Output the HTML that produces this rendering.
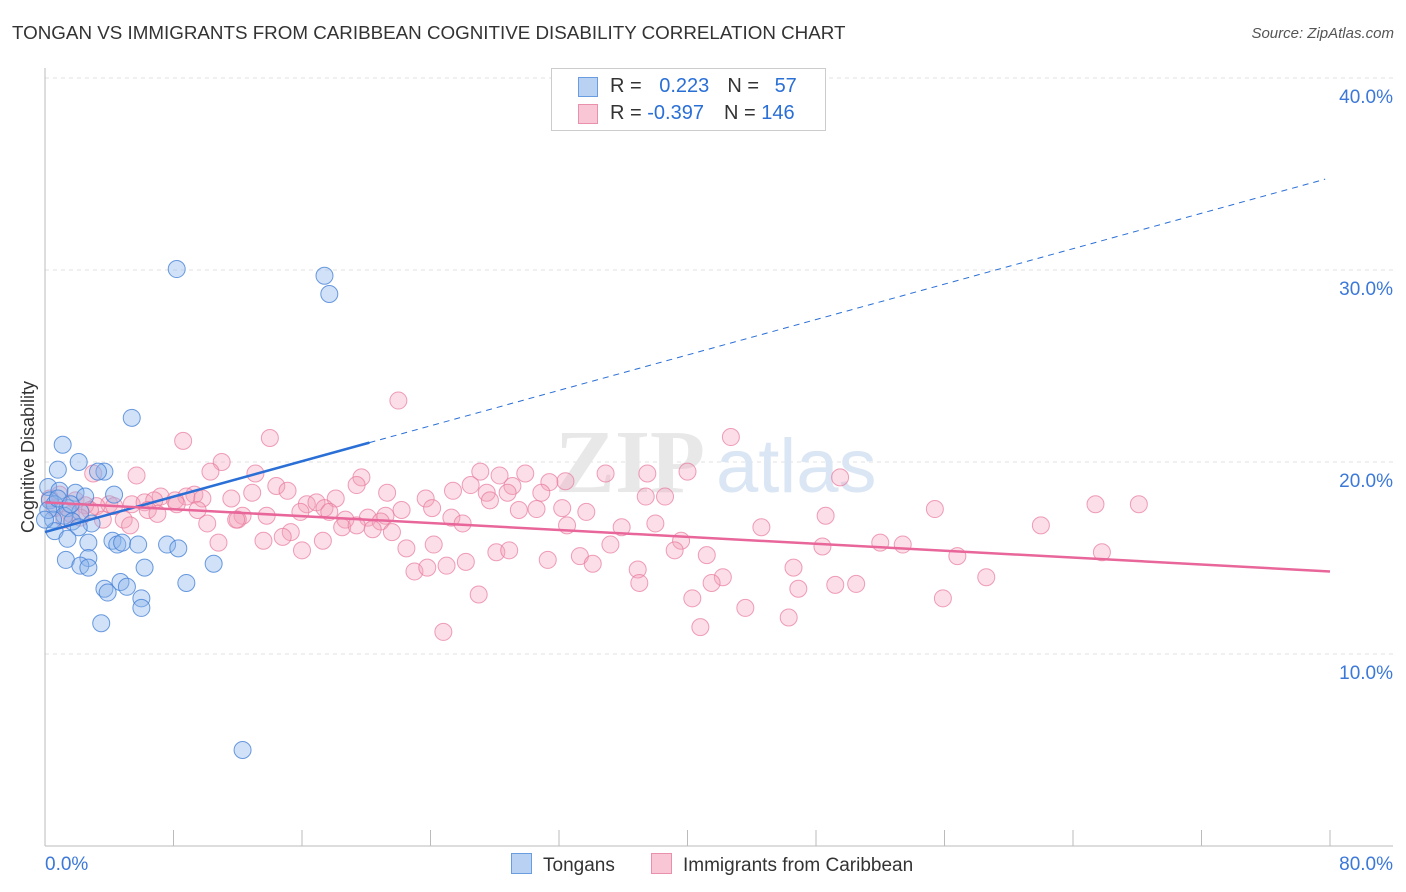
<!DOCTYPE html>
<html><head><meta charset="utf-8"><style>
body{margin:0;background:#fff;font-family:"Liberation Sans",sans-serif;}
#wrap{position:relative;width:1406px;height:892px;overflow:hidden}
.t{position:absolute;white-space:nowrap}
</style></head><body>
<div id="wrap">
<div class="t" style="left:12px;top:22px;font-size:18.8px;color:#333">TONGAN VS IMMIGRANTS FROM CARIBBEAN COGNITIVE DISABILITY CORRELATION CHART</div>
<div class="t" style="right:12px;top:25px;font-size:15px;color:#555;font-style:italic">Source: ZipAtlas.com</div>
<svg id="svg" width="1406" height="892" style="position:absolute;left:0;top:0"></svg>
</div>
<script>
const blueX=[8.2,17.4,17.7,5.4,1.1,2.1,0.8,3.7,3.3,0.2,0.9,1.9,4.3,2.5,0.3,0.6,1.4,2.2,1.2,0.5,1.7,2.9,2.1,0.6,1.4,2.7,4.2,4.5,4.8,5.8,7.6,8.3,1.3,2.7,2.2,2.7,6.2,10.5,4.7,5.1,3.7,3.9,6.0,6.0,8.8,3.5,12.3,0.2,0.8,1.6,0];
const blueY=[30.05,29.7,28.75,22.3,20.9,20.0,19.6,19.5,19.5,18.7,18.5,18.4,18.3,18.2,18.0,17.8,17.6,17.4,17.2,17.0,16.9,16.8,16.6,16.4,16.0,15.8,15.9,15.7,15.8,15.7,15.7,15.5,14.9,15.0,14.6,14.5,14.5,14.7,13.75,13.5,13.4,13.2,12.9,12.4,13.7,11.6,5.0,17.5,18.1,17.8,17];
const pinkX=[22.0,8.6,14.0,42.7,11.0,5.7,10.3,3.0,13.1,19.7,27.1,28.3,29.9,34.9,37.5,40.0,49.5,32.4,31.4,26.5,29.1,19.4,14.4,15.1,12.9,21.3,25.4,27.5,28.8,30.9,9.3,7.2,8.8,9.8,11.6,23.7,37.4,38.6,18.1,27.7,5.4,6.2,6.8,8.1,4.0,3.2,6.4,8.2,9.5,16.3,16.9,17.4,17.7,15.9,13.8,21.2,22.2,24.1,29.5,30.6,32.2,33.7,12.3,4.9,3.6,5.3,7.0,12.0,18.7,20.1,20.9,25.3,26.0,48.6,55.4,65.4,68.1,10.1,11.9,18.5,19.4,20.4,21.6,32.5,35.9,38.0,44.6,62.0,15.3,14.8,13.6,10.8,17.3,24.2,22.5,35.2,39.6,52.0,53.4,48.4,39.2,16.0,28.1,28.9,33.3,41.2,56.8,65.8,26.2,31.3,34.1,23.0,23.8,25.0,36.9,46.6,42.2,41.5,37.0,46.9,49.2,50.5,58.6,27.0,40.3,43.6,55.9,46.3,40.8,24.8,0.9,1.9,2.5,0.6,1.6,2.8,0.3,4.3,1.2,2.2];
const pinkY=[23.2,21.1,21.25,21.3,20.0,19.3,19.5,19.4,19.4,19.2,19.5,19.3,19.4,19.4,19.4,19.5,19.2,19.0,18.95,18.8,18.75,18.8,18.75,18.5,18.4,18.4,18.5,18.4,18.4,18.4,18.3,18.2,18.2,18.1,18.1,18.1,18.2,18.2,18.1,18.0,17.8,17.9,18.0,18.0,17.8,17.7,17.5,17.8,17.5,17.8,17.9,17.6,17.4,17.4,17.2,17.2,17.5,17.6,17.5,17.55,17.6,17.4,17.2,17.0,17.0,16.7,17.3,17.0,17.0,17.1,16.9,17.1,16.8,17.2,17.55,17.8,17.8,16.8,17.0,16.6,16.7,16.5,16.35,16.7,16.6,16.8,16.6,16.7,16.35,16.1,15.9,15.8,15.9,15.7,15.5,15.7,15.9,15.8,15.7,15.6,15.4,15.4,15.3,15.4,15.1,15.15,15.1,15.3,14.8,14.9,14.7,14.3,14.5,14.6,14.4,14.5,14.0,13.7,13.7,13.4,13.6,13.65,14.0,13.1,12.9,12.4,12.9,11.9,11.4,11.15,18.3,18.0,17.75,17.6,17.3,17.5,18.1,17.7,17.0,17.1];
const blueTrend=[16.35,34.8], blueSolidEnd=20.2;
const pinkTrend=[17.9,14.3];
const yTicks=[10,20,30,40];
const xTickVals=[0,8,16,24,32,40,48,56,64,72,80];

const NS="http://www.w3.org/2000/svg", svg=document.getElementById('svg');
const sx=v=>45+v*1285/80, sy=v=>846-v*19.2;
function mk(tag,a,p){const e=document.createElementNS(NS,tag);for(const k in a)e.setAttribute(k,a[k]);(p||svg).appendChild(e);return e;}
yTicks.forEach(t=>{
 const g=mk('line',{x1:45,x2:1393,y1:sy(t),y2:sy(t),stroke:'#e2e2e2','stroke-dasharray':'4,4'});
 
 
 const l=mk('text',{x:1393,y:sy(t)+25,'text-anchor':'end','font-size':19,fill:'#3b78d8','font-family':'Liberation Sans'});
 l.textContent=t.toFixed(1)+'%';
 
 
});
mk('line',{x1:45,x2:45,y1:68,y2:846,stroke:'#bbb'});
mk('line',{x1:45,x2:1393,y1:846,y2:846,stroke:'#bbb'});
xTickVals.forEach(t=>{const k=mk('line',{x1:sx(t),x2:sx(t),y1:830,y2:846,stroke:'#bbb'});
 
 });
const w=mk('text',{x:555,y:492,'font-size':90,fill:'#e8e8e8','font-family':'Liberation Serif','font-weight':'bold'});w.textContent='ZIP';


const w2=mk('text',{x:716,y:492,'font-size':76,fill:'#dbe6f5','font-family':'Liberation Sans'});w2.textContent='atlas';


pinkX.forEach((x,i)=>{const c=mk('circle',{cx:sx(x),cy:sy(pinkY[i]),r:8.5,fill:'rgba(244,160,185,0.35)',stroke:'rgba(232,120,155,0.7)','stroke-width':1});
 
 });
blueX.forEach((x,i)=>{const c=mk('circle',{cx:sx(x),cy:sy(blueY[i]),r:8.5,fill:'rgba(140,180,235,0.4)',stroke:'rgba(70,130,215,0.8)','stroke-width':1});
 
 });
const by=x=>blueTrend[0]+(blueTrend[1]-blueTrend[0])*x/80;
const b1=mk('line',{x1:sx(0),y1:sy(by(0)),x2:sx(blueSolidEnd),y2:sy(by(blueSolidEnd)),stroke:'#2a6fd6','stroke-width':2.5});


const b2=mk('line',{x1:sx(blueSolidEnd),y1:sy(by(blueSolidEnd)),x2:sx(79.7),y2:sy(by(79.7)),stroke:'#2a6fd6','stroke-width':1,'stroke-dasharray':'6,5'});


const p1=mk('line',{x1:sx(0),y1:sy(pinkTrend[0]),x2:sx(80),y2:sy(pinkTrend[1]),stroke:'#e8669a','stroke-width':2.5});


const xl0=mk('text',{x:45,y:870,'font-size':19,fill:'#3b78d8','font-family':'Liberation Sans'});xl0.textContent='0.0%';


const xl1=mk('text',{x:1393,y:870,'text-anchor':'end','font-size':19,fill:'#3b78d8','font-family':'Liberation Sans'});xl1.textContent='80.0%';


const yt=mk('text',{x:34,y:457,'font-size':18,fill:'#333','font-family':'Liberation Sans','text-anchor':'middle',transform:'rotate(-90 34 457)'});yt.textContent='Cognitive Disability';


</script>
<div class="t" style="left:551px;top:68px;width:273px;height:61px;border:1px solid #ccc;background:#fff;font-size:20px;color:#333">
 <div style="position:absolute;left:26px;top:8px;width:18px;height:18px;background:#b9d2f3;border:1px solid #6a9de0"></div>
 <div class="t" style="left:58px;top:6px">R = <span style="color:#2a6fd6;margin-left:12px">0.223</span><span style="margin-left:18px">N = </span><span style="color:#2a6fd6;margin-left:10px">57</span></div>
 <div style="position:absolute;left:26px;top:35px;width:18px;height:18px;background:#f8c6d5;border:1px solid #e890ac"></div>
 <div class="t" style="left:58px;top:33px">R = <span style="color:#2a6fd6">-0.397</span><span style="margin-left:20px">N = </span><span style="color:#2a6fd6">146</span></div>
</div>
<div class="t" style="left:511px;top:853px;font-size:19px;color:#333"><span style="display:inline-block;width:19px;height:19px;background:#b9d2f3;border:1px solid #6a9de0;vertical-align:-3px;margin-right:11px"></span>Tongans</div>
<div class="t" style="left:651px;top:853px;font-size:19px;color:#333"><span style="display:inline-block;width:19px;height:19px;background:#f8c6d5;border:1px solid #e890ac;vertical-align:-3px;margin-right:11px"></span>Immigrants from Caribbean</div>
</body></html>
